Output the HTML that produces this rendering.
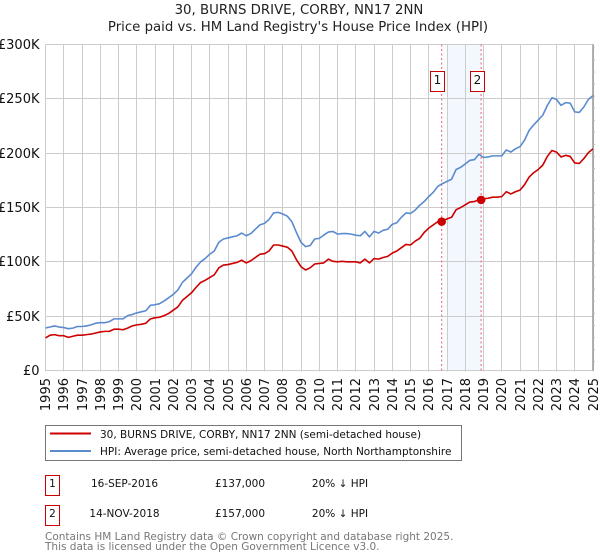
<!DOCTYPE html>
<html>
<head>
<meta charset="utf-8">
<title>30, BURNS DRIVE, CORBY, NN17 2NN</title>
<style>
html,body{margin:0;padding:0;background:#fff;}
svg{display:block;font-family:"DejaVu Sans",sans-serif;}
</style>
</head>
<body>
<svg id="chart" width="600" height="560" viewBox="0 0 600 560" xmlns="http://www.w3.org/2000/svg">
  <text x="299" y="14" font-size="13.3" text-anchor="middle" fill="#222">30, BURNS DRIVE, CORBY, NN17 2NN</text>
  <text x="298" y="31" font-size="13.3" text-anchor="middle" fill="#222">Price paid vs. HM Land Registry's House Price Index (HPI)</text>
  <g id="plot"></g>

  <g>
    <rect x="45.5" y="425.5" width="416" height="35" fill="#fff" stroke="#777" stroke-width="1"/>
    <line x1="50" x2="91" y1="433.5" y2="433.5" stroke="#c00" stroke-width="2"/>
    <text x="100" y="438" font-size="10.5" fill="#111">30, BURNS DRIVE, CORBY, NN17 2NN (semi-detached house)</text>
    <line x1="50" x2="91" y1="451" y2="451" stroke="#5b8bcf" stroke-width="2"/>
    <text x="100" y="455" font-size="10.5" fill="#111">HPI: Average price, semi-detached house, North Northamptonshire</text>
  </g>

  <g font-size="10.5" fill="#111">
    <rect x="45.5" y="475.5" width="14" height="20" fill="#fff" stroke="#c00" stroke-width="1"/>
    <text x="52.5" y="487" text-anchor="middle">1</text>
    <text x="124.5" y="487" text-anchor="middle">16-SEP-2016</text>
    <text x="240" y="487" text-anchor="middle">£137,000</text>
    <text x="340" y="487" text-anchor="middle">20% ↓ HPI</text>
  </g>
  <g font-size="10.5" fill="#111">
    <rect x="45.5" y="505.5" width="14" height="20" fill="#fff" stroke="#c00" stroke-width="1"/>
    <text x="52.5" y="517" text-anchor="middle">2</text>
    <text x="124.5" y="517" text-anchor="middle">14-NOV-2018</text>
    <text x="240" y="517" text-anchor="middle">£157,000</text>
    <text x="340" y="517" text-anchor="middle">20% ↓ HPI</text>
  </g>

  <text x="45" y="540" font-size="10.5" fill="#777">Contains HM Land Registry data © Crown copyright and database right 2025.</text>
  <text x="45" y="550" font-size="10.5" fill="#777">This data is licensed under the Open Government Licence v3.0.</text>
</svg>
<script>
// Quarterly readings, 1995 Q1 onward, finishing at the start of 2025.
const startYear = 1995;
const yearTicks = [1995,1996,1997,1998,1999,2000,2001,2002,2003,2004,2005,2006,2007,2008,2009,2010,2011,2012,2013,2014,2015,2016,2017,2018,2019,2020,2021,2022,2023,2024,2025];
const valueTicks = [0,50000,100000,150000,200000,250000,300000];
const valueTickLabels = ['£0','£50K','£100K','£150K','£200K','£250K','£300K'];
const hpiValues = [
39100,40000,41000,40000, 39500,38500,39000,40500, 40500,41000,42000,43500, 44000,44000,45000,47500,
47500,47500,50500,51500, 53000,54000,55000,60000, 60500,61500,64000,67000, 70000,74000,81000,85000,
89000,95000,100000,103000, 107000,110000,118000,121000, 122000,123000,124000,126500, 124000,126000,130000,134000,
135400,139000,145000,145500, 144000,142000,137000,127000, 118000,114000,115000,121000, 121600,124600,127400,128000,
125500,126000,126000,125500, 124500,124000,128000,123000, 128000,126500,129000,130000, 134500,136000,141000,145000,
144500,147500,152000,155500, 160000,164000,169500,172000, 174000,176000,185000,187000, 190000,193400,194000,199000,
196000,196500,197500,197500, 197500,203000,201000,204000, 206000,212000,221000,226000, 230500,235000,244000,251000,
249500,244000,246500,246000, 238000,237500,242500,249500, 253000
];
const priceValues = [
30000,32500,33000,32000, 32000,30500,31500,32500, 32500,33000,33500,34500, 35500,36000,36000,38000,
38000,37500,39000,41000, 42000,42500,43500,47500, 48500,49000,50500,52500, 55500,58500,64500,68000,
71500,76500,81000,83000, 85500,88000,94500,97000, 97500,98500,99500,101500, 99000,101000,104000,107000,
107500,110000,115500,115500, 114500,113500,110000,102000, 95500,92500,94500,98000, 98500,99000,102500,100500,
100000,100500,100000,100000, 100000,99000,102500,99000, 103000,102500,104000,105000, 108000,110000,113000,116000,
115500,119000,121500,127000, 131000,134000,137000,137500, 139500,141000,148000,150000, 152500,155000,155500,157000,
158000,158500,159500,159500, 160000,164500,162500,164500, 166000,171000,178000,182000, 185000,189000,197000,202500,
201000,196500,198000,197000, 191000,190500,195000,200500, 204000
];
const saleYears = [2016.71, 2018.87];
const salePrices = [137000, 157000];
const saleLabels = ['1','2'];

const NS = 'http://www.w3.org/2000/svg';
const plot = document.getElementById('plot');
const plotLeft = 45.5, plotRight = 593, plotTop = 44.5, plotBottom = 370.5, valueMax = 300000;

function xScale(year) {
  const whole = Math.floor(year);
  const days = (Date.UTC(whole,0,1) - Date.UTC(startYear,0,1)) / 86400000 + (year - whole) * 365.25;
  const totalDays = (Date.UTC(2025,0,1) - Date.UTC(startYear,0,1)) / 86400000;
  return plotLeft + days / totalDays * (plotRight - plotLeft);
}
function yScale(value) {
  return plotBottom - value / valueMax * (plotBottom - plotTop);
}
function crisp(v) {
  return Math.floor(v) + 0.5;
}
function add(tag, attrs, parent) {
  const el = document.createElementNS(NS, tag);
  for (const k in attrs) el.setAttribute(k, attrs[k]);
  (parent || plot).appendChild(el);
  return el;
}
function seriesPath(values) {
  return values.map((v, i) => (i ? 'L' : 'M') + xScale(startYear + i / 4).toFixed(2) + ' ' + yScale(v).toFixed(2)).join(' ');
}

// Shaded holding period
const bandFaint = add('rect', {x: xScale(saleYears[0]), y: plotTop, width: xScale(2017.05) - xScale(saleYears[0]), height: plotBottom - plotTop, fill: '#fafbff'});


const band = add('rect', {x: xScale(2017.05), y: plotTop, width: xScale(saleYears[1]) - xScale(2017.05), height: plotBottom - plotTop, fill: '#f3f7fe'});



// Grid
yearTicks.forEach(year => {
  const x = crisp(xScale(year));
  const line = add('line', {x1: x, x2: x, y1: plotTop, y2: plotBottom + 1, stroke: '#ccc', 'stroke-width': 1});
  
  
  const label = add('text', {transform: 'translate(' + (x + 4.5) + ',378) rotate(-90)', 'font-size': 13, 'text-anchor': 'end', fill: '#111'});
  
  
  label.textContent = year;
});
valueTicks.forEach((value, i) => {
  const y = crisp(yScale(value));
  const line = add('line', {x1: plotLeft, x2: plotRight + 1, y1: y, y2: y, stroke: '#ccc', 'stroke-width': 1});
  
  
  const label = add('text', {x: 39.5, y: y + 4.5, 'font-size': 13, 'text-anchor': 'end', fill: '#111'});
  
  
  label.textContent = valueTickLabels[i];
});

// Right edge rule with its small ticks
const rightEdge = add('line', {x1: 593, x2: 593, y1: plotTop, y2: plotBottom, stroke: '#999', 'stroke-width': 1.5});


for (let tickY = 361.7; tickY > plotTop; tickY -= 12.07) {
  const tick = add('line', {x1: 593, x2: 595, y1: tickY, y2: tickY, stroke: '#bbb', 'stroke-width': 1});
  
  
}

// Sale date rules
saleYears.forEach(year => {
  const rule = add('line', {x1: xScale(year), x2: xScale(year), y1: plotTop, y2: plotBottom, stroke: '#e8606e', 'stroke-width': 1, 'stroke-dasharray': '2 2.5'});
  
  
});

// Series
const hpiLine = add('path', {d: seriesPath(hpiValues), fill: 'none', stroke: '#5b8bcf', 'stroke-width': 1.6, 'stroke-linejoin': 'round'});


const priceLine = add('path', {d: seriesPath(priceValues), fill: 'none', stroke: '#c00', 'stroke-width': 1.6, 'stroke-linejoin': 'round'});



// Sale markers and their numbered flags
saleYears.forEach((year, i) => {
  const marker = add('circle', {cx: xScale(year), cy: yScale(salePrices[i]), r: 4.3, fill: '#c00'});
  
  
  const flagX = crisp(xScale(year) - 11);
  const flag = add('rect', {x: flagX, y: 71.5, width: 14, height: 20, fill: '#fff', stroke: '#c00', 'stroke-width': 1});
  
  
  const flagText = add('text', {x: flagX + 7, y: 84, 'font-size': 12, 'text-anchor': 'middle', fill: '#111'});
  
  
  flagText.textContent = saleLabels[i];
});
</script>
</body>
</html>
